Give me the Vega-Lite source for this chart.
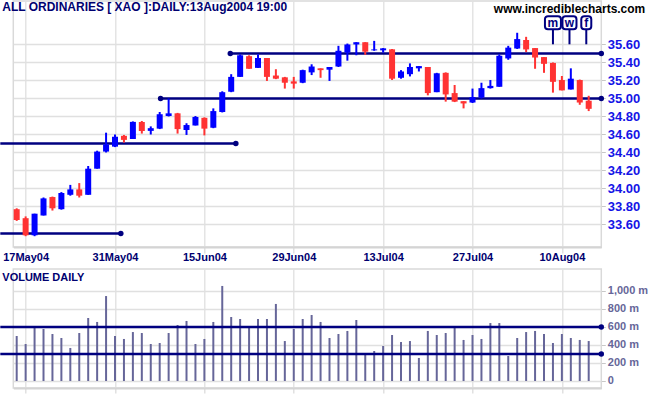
{
  "$schema": "https://vega.github.io/schema/vega-lite/v6.json",
  "autosize": {"type": "pad"},
  "padding": {"left": -2.7, "top": 0, "right": 4, "bottom": 4},
  "background": "white",
  "spacing": 22,
  "bounds": "flush",
  "config": {
    "view": {"stroke": "#d9d9d9", "strokeWidth": 1.5},
    "font": "Liberation Sans",
    "axis": {"title": null, "gridColor": "#e0e0e0", "gridWidth": 1.3, "labelFont": "Liberation Sans", "labelFontWeight": "bold", "labelOverlap": false}
  },
  "datasets": {
    "ohlc": [
      {"d":"2004-05-14","i":-1,"o":33.77,"h":33.78,"l":33.64,"c":33.65,"v":500},
      {"d":"2004-05-17","i":0,"o":33.67,"h":33.69,"l":33.47,"c":33.48,"v":411},
      {"d":"2004-05-18","i":1,"o":33.48,"h":33.72,"l":33.47,"c":33.72,"v":593},
      {"d":"2004-05-19","i":2,"o":33.70,"h":33.90,"l":33.70,"c":33.89,"v":578},
      {"d":"2004-05-20","i":3,"o":33.905,"h":33.91,"l":33.755,"c":33.78,"v":522},
      {"d":"2004-05-21","i":4,"o":33.77,"h":33.96,"l":33.765,"c":33.95,"v":478},
      {"d":"2004-05-24","i":5,"o":33.93,"h":34.04,"l":33.92,"c":33.99,"v":367},
      {"d":"2004-05-25","i":6,"o":33.99,"h":34.06,"l":33.90,"c":33.92,"v":533},
      {"d":"2004-05-26","i":7,"o":33.93,"h":34.25,"l":33.93,"c":34.22,"v":700},
      {"d":"2004-05-27","i":8,"o":34.22,"h":34.42,"l":34.22,"c":34.41,"v":656},
      {"d":"2004-05-28","i":9,"o":34.41,"h":34.62,"l":34.40,"c":34.49,"v":944},
      {"d":"2004-05-31","i":10,"o":34.465,"h":34.60,"l":34.46,"c":34.575,"v":500},
      {"d":"2004-06-01","i":11,"o":34.585,"h":34.595,"l":34.51,"c":34.54,"v":467},
      {"d":"2004-06-02","i":12,"o":34.55,"h":34.745,"l":34.55,"c":34.74,"v":544},
      {"d":"2004-06-03","i":13,"o":34.74,"h":34.75,"l":34.61,"c":34.64,"v":533},
      {"d":"2004-06-04","i":14,"o":34.64,"h":34.69,"l":34.60,"c":34.67,"v":411},
      {"d":"2004-06-07","i":15,"o":34.665,"h":34.85,"l":34.66,"c":34.825,"v":422},
      {"d":"2004-06-08","i":16,"o":34.805,"h":35.00,"l":34.80,"c":34.835,"v":533},
      {"d":"2004-06-09","i":17,"o":34.835,"h":34.84,"l":34.61,"c":34.66,"v":622},
      {"d":"2004-06-10","i":18,"o":34.65,"h":34.725,"l":34.595,"c":34.705,"v":667},
      {"d":"2004-06-11","i":19,"o":34.70,"h":34.805,"l":34.70,"c":34.795,"v":411},
      {"d":"2004-06-15","i":20,"o":34.785,"h":34.79,"l":34.59,"c":34.665,"v":467},
      {"d":"2004-06-16","i":21,"o":34.675,"h":34.89,"l":34.67,"c":34.86,"v":656},
      {"d":"2004-06-17","i":22,"o":34.85,"h":35.08,"l":34.845,"c":35.07,"v":1056},
      {"d":"2004-06-18","i":23,"o":35.075,"h":35.27,"l":35.07,"c":35.24,"v":711},
      {"d":"2004-06-21","i":24,"o":35.24,"h":35.49,"l":35.24,"c":35.48,"v":689},
      {"d":"2004-06-22","i":25,"o":35.47,"h":35.48,"l":35.33,"c":35.33,"v":611},
      {"d":"2004-06-23","i":26,"o":35.34,"h":35.49,"l":35.34,"c":35.45,"v":689},
      {"d":"2004-06-24","i":27,"o":35.45,"h":35.45,"l":35.195,"c":35.24,"v":689},
      {"d":"2004-06-25","i":28,"o":35.255,"h":35.325,"l":35.215,"c":35.22,"v":856},
      {"d":"2004-06-28","i":29,"o":35.235,"h":35.24,"l":35.11,"c":35.175,"v":444},
      {"d":"2004-06-29","i":30,"o":35.19,"h":35.24,"l":35.11,"c":35.165,"v":578},
      {"d":"2004-06-30","i":31,"o":35.175,"h":35.32,"l":35.17,"c":35.315,"v":689},
      {"d":"2004-07-01","i":32,"o":35.29,"h":35.38,"l":35.26,"c":35.355,"v":733},
      {"d":"2004-07-02","i":33,"o":35.335,"h":35.335,"l":35.23,"c":35.315,"v":656},
      {"d":"2004-07-05","i":34,"o":35.32,"h":35.35,"l":35.195,"c":35.35,"v":478},
      {"d":"2004-07-06","i":35,"o":35.355,"h":35.585,"l":35.35,"c":35.53,"v":522},
      {"d":"2004-07-07","i":36,"o":35.51,"h":35.61,"l":35.42,"c":35.60,"v":556},
      {"d":"2004-07-08","i":37,"o":35.60,"h":35.625,"l":35.48,"c":35.625,"v":678},
      {"d":"2004-07-09","i":38,"o":35.625,"h":35.625,"l":35.485,"c":35.52,"v":300},
      {"d":"2004-07-12","i":39,"o":35.535,"h":35.64,"l":35.53,"c":35.545,"v":333},
      {"d":"2004-07-13","i":40,"o":35.535,"h":35.56,"l":35.51,"c":35.557,"v":389},
      {"d":"2004-07-14","i":41,"o":35.546,"h":35.55,"l":35.205,"c":35.22,"v":511},
      {"d":"2004-07-15","i":42,"o":35.23,"h":35.315,"l":35.22,"c":35.30,"v":433},
      {"d":"2004-07-16","i":43,"o":35.27,"h":35.39,"l":35.245,"c":35.35,"v":444},
      {"d":"2004-07-19","i":44,"o":35.335,"h":35.36,"l":35.30,"c":35.36,"v":256},
      {"d":"2004-07-20","i":45,"o":35.35,"h":35.35,"l":35.035,"c":35.06,"v":556},
      {"d":"2004-07-21","i":46,"o":35.07,"h":35.285,"l":35.07,"c":35.28,"v":511},
      {"d":"2004-07-22","i":47,"o":35.285,"h":35.29,"l":34.965,"c":35.045,"v":533},
      {"d":"2004-07-23","i":48,"o":35.06,"h":35.15,"l":34.96,"c":34.965,"v":600},
      {"d":"2004-07-26","i":49,"o":34.97,"h":34.97,"l":34.89,"c":34.945,"v":456},
      {"d":"2004-07-27","i":50,"o":34.955,"h":35.11,"l":34.95,"c":35.015,"v":511},
      {"d":"2004-07-28","i":51,"o":35.01,"h":35.175,"l":35.00,"c":35.115,"v":467},
      {"d":"2004-07-29","i":52,"o":35.115,"h":35.205,"l":35.11,"c":35.14,"v":644},
      {"d":"2004-07-30","i":53,"o":35.13,"h":35.49,"l":35.13,"c":35.475,"v":644},
      {"d":"2004-08-02","i":54,"o":35.445,"h":35.585,"l":35.43,"c":35.565,"v":278},
      {"d":"2004-08-03","i":55,"o":35.555,"h":35.73,"l":35.55,"c":35.66,"v":478},
      {"d":"2004-08-04","i":56,"o":35.65,"h":35.685,"l":35.515,"c":35.545,"v":544},
      {"d":"2004-08-05","i":57,"o":35.56,"h":35.56,"l":35.33,"c":35.455,"v":556},
      {"d":"2004-08-06","i":58,"o":35.46,"h":35.46,"l":35.285,"c":35.385,"v":522},
      {"d":"2004-08-09","i":59,"o":35.395,"h":35.40,"l":35.065,"c":35.185,"v":422},
      {"d":"2004-08-10","i":60,"o":35.205,"h":35.25,"l":35.09,"c":35.09,"v":522},
      {"d":"2004-08-11","i":61,"o":35.10,"h":35.335,"l":35.10,"c":35.22,"v":478},
      {"d":"2004-08-12","i":62,"o":35.205,"h":35.21,"l":34.93,"c":34.955,"v":456},
      {"d":"2004-08-13","i":63,"o":34.975,"h":35.03,"l":34.86,"c":34.885,"v":444}
    ],
    "supports": [
      {"p":35.5,"x1":22.9,"x2":64.41},
      {"p":35.0,"x1":15.1,"x2":64.41},
      {"p":34.5,"x1":-2.835,"x2":23.52},
      {"p":33.5,"x1":-2.835,"x2":10.65}
    ],
    "sdots": [
      {"i":22.9,"p":35.5},{"i":64.41,"p":35.5},
      {"i":15.1,"p":35.0},{"i":64.41,"p":35.0},
      {"i":23.52,"p":34.5},{"i":10.65,"p":33.5}
    ],
    "flags": [
      {"t":"m","i":59.0,"top":35.769,"bot":35.602,"p":35.842},
      {"t":"w","i":60.85,"top":35.769,"bot":35.602,"p":35.842},
      {"t":"f","i":62.73,"top":35.769,"bot":35.602,"p":35.842}
    ],
    "vlines": [
      {"v":600,"x1":-2.835,"x2":64.41},
      {"v":300,"x1":-2.835,"x2":64.41}
    ],
    "vdots": [{"i":64.41,"v":600},{"i":64.41,"v":300}]
  },
  "vconcat": [
    {
      "width": 588,
      "height": 246,
      "layer": [
        {
          "data": {"name": "supports"},
          "mark": {"type": "rule", "color": "#000080", "strokeWidth": 2.7},
          "encoding": {
            "x": {"field": "x1", "type": "quantitative",
              "scale": {"domain": [-1.38, 64.41], "nice": false, "zero": false, "padding": 0},
              "axis": {"values": [0,10,20,30,40,50,60], "tickCount": 20,
                "labelExpr": "['17May04','31May04','15Jun04','29Jun04','13Jul04','27Jul04','10Aug04'][round(datum.value/10)]",
                "grid": true, "tickColor": "#dcdcdc", "tickSize": 6, "tickWidth": 1.3,
                "domainColor": "#d4d4d4", "domainWidth": 2, "labelOverlap": false,
                "labelFontSize": 11, "labelColor": "#000070", "labelPadding": -1, "labelFlush": false}},
            "x2": {"field": "x2"},
            "y": {"field": "p", "type": "quantitative",
              "scale": {"domain": [33.35, 36.083], "nice": false, "zero": false, "padding": 0},
              "axis": {"orient": "right", "values": [33.6,33.8,34.0,34.2,34.4,34.6,34.8,35.0,35.2,35.4,35.6],
                "tickCount": 30, "format": ".2f", "grid": true, "domain": false, "tickColor": "#c8c8c8", "tickSize": 4,
                "labelOverlap": false, "labelSeparation": 0,
                "labelPadding": 2, "labelFontSize": 13, "labelColor": "#1414e6"}}
          }
        },
        {
          "data": {"name": "sdots"},
          "mark": {"type": "point", "filled": true, "color": "#000080", "size": 30, "opacity": 1},
          "encoding": {
            "x": {"field": "i", "type": "quantitative"},
            "y": {"field": "p", "type": "quantitative"}
          }
        },
        {
          "data": {"name": "ohlc"},
          "mark": {"type": "rule", "strokeWidth": 2},
          "encoding": {
            "x": {"field": "i", "type": "quantitative"},
            "y": {"field": "l", "type": "quantitative"},
            "y2": {"field": "h"},
            "color": {"condition": {"test": "datum.c > datum.o", "value": "#0000ff"}, "value": "#ff3333"}
          }
        },
        {
          "data": {"name": "ohlc"},
          "mark": {"type": "bar", "width": 6},
          "encoding": {
            "x": {"field": "i", "type": "quantitative"},
            "y": {"field": "o", "type": "quantitative"},
            "y2": {"field": "c"},
            "color": {"condition": {"test": "datum.c > datum.o", "value": "#0000ff"}, "value": "#ff3333"}
          }
        },
        {
          "data": {"name": "flags"},
          "mark": {"type": "rule", "color": "#000080", "strokeWidth": 2},
          "encoding": {
            "x": {"field": "i", "type": "quantitative"},
            "y": {"field": "top", "type": "quantitative"},
            "y2": {"field": "bot"}
          }
        },
        {
          "data": {"name": "flags"},
          "transform": [{"filter": "datum.t == 'm'"}],
          "mark": {"type": "rect", "width": 16, "height": 13, "fill": "white", "stroke": "#000080", "strokeWidth": 2, "cornerRadius": 3},
          "encoding": {
            "x": {"field": "i", "type": "quantitative"},
            "y": {"field": "p", "type": "quantitative"}
          }
        },
        {
          "data": {"name": "flags"},
          "transform": [{"filter": "datum.t == 'w'"}],
          "mark": {"type": "rect", "width": 14, "height": 13, "fill": "white", "stroke": "#000080", "strokeWidth": 2, "cornerRadius": 3},
          "encoding": {
            "x": {"field": "i", "type": "quantitative"},
            "y": {"field": "p", "type": "quantitative"}
          }
        },
        {
          "data": {"name": "flags"},
          "transform": [{"filter": "datum.t == 'f'"}],
          "mark": {"type": "rect", "width": 10, "height": 13, "fill": "white", "stroke": "#000080", "strokeWidth": 2, "cornerRadius": 3},
          "encoding": {
            "x": {"field": "i", "type": "quantitative"},
            "y": {"field": "p", "type": "quantitative"}
          }
        },
        {
          "data": {"name": "flags"},
          "mark": {"type": "text", "font": "Liberation Sans", "fontWeight": "bold", "fontSize": 12, "color": "#000080", "baseline": "middle", "align": "center", "dy": 0},
          "encoding": {
            "x": {"field": "i", "type": "quantitative"},
            "y": {"field": "p", "type": "quantitative"},
            "text": {"field": "t"}
          }
        },
        {
          "data": {"values": [{"t": "ALL ORDINARIES [ XAO ]:DAILY:13Aug2004 19:00", "i": -2.61, "p": 35.972}]},
          "mark": {"type": "text", "font": "Liberation Sans", "fontWeight": "bold", "fontSize": 12, "color": "#000070", "align": "left", "baseline": "alphabetic"},
          "encoding": {
            "x": {"field": "i", "type": "quantitative"},
            "y": {"field": "p", "type": "quantitative"},
            "text": {"field": "t"}
          }
        },
        {
          "data": {"values": [{"t": "www.incrediblecharts.com", "i": 69.33, "p": 35.953}]},
          "mark": {"type": "text", "font": "Liberation Sans", "fontWeight": "bold", "fontSize": 12, "color": "#000000", "align": "right", "baseline": "alphabetic"},
          "encoding": {
            "x": {"field": "i", "type": "quantitative"},
            "y": {"field": "p", "type": "quantitative"},
            "text": {"field": "t"}
          }
        }
      ]
    },
    {
      "width": 588,
      "height": 119,
      "layer": [
        {
          "data": {"name": "ohlc"},
          "mark": {"type": "rule", "color": "#666699", "strokeWidth": 2},
          "encoding": {
            "x": {"field": "i", "type": "quantitative",
              "scale": {"domain": [-1.38, 64.41], "nice": false, "zero": false, "padding": 0},
              "axis": {"values": [0,10,20,30,40,50,60], "tickCount": 20, "labels": false, "grid": true,
                "tickColor": "#dcdcdc", "tickSize": 5, "tickWidth": 1.3,
                "domainColor": "#d4d4d4", "domainWidth": 2}},
            "y": {"field": "v", "type": "quantitative",
              "scale": {"domain": [-77.8, 1244.4], "nice": false, "zero": false, "padding": 0},
              "axis": {"orient": "right", "values": [0,200,400,600,800,1000], "tickCount": 20,
                "labelExpr": "datum.value == 0 ? '0' : format(datum.value, ',') + ' m'",
                "grid": true, "domain": false, "tickColor": "#c8c8c8", "tickSize": 4,
                "labelOverlap": false, "labelSeparation": 0,
                "labelPadding": 2, "labelFontSize": 11, "labelColor": "#666699"}},
            "y2": {"datum": 0}
          }
        },
        {
          "data": {"name": "vlines"},
          "mark": {"type": "rule", "color": "#000080", "strokeWidth": 2.7},
          "encoding": {
            "x": {"field": "x1", "type": "quantitative"},
            "x2": {"field": "x2"},
            "y": {"field": "v", "type": "quantitative"}
          }
        },
        {
          "data": {"name": "vdots"},
          "mark": {"type": "point", "filled": true, "color": "#000080", "size": 30, "opacity": 1},
          "encoding": {
            "x": {"field": "i", "type": "quantitative"},
            "y": {"field": "v", "type": "quantitative"}
          }
        },
        {
          "data": {"values": [{"t": "VOLUME DAILY", "i": -2.61, "v": 1111}]},
          "mark": {"type": "text", "font": "Liberation Sans", "fontWeight": "bold", "fontSize": 11, "color": "#000070", "align": "left", "baseline": "alphabetic"},
          "encoding": {
            "x": {"field": "i", "type": "quantitative"},
            "y": {"field": "v", "type": "quantitative"},
            "text": {"field": "t"}
          }
        }
      ]
    }
  ]
}
